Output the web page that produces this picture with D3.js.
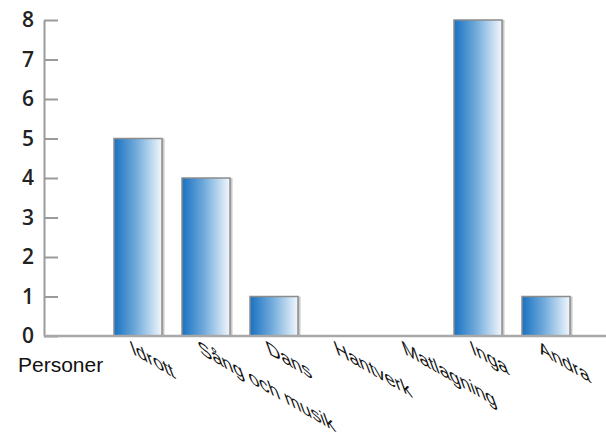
<!DOCTYPE html>
<html>
<head>
<meta charset="utf-8">
<script src="https://cdn.jsdelivr.net/npm/d3@7"></script>
<style>
  html, body { margin: 0; padding: 0; background: #fff; }
  svg { display: block; }
</style>
</head>
<body>
<svg id="chart" width="606" height="436"></svg>
<script>
const categories = ["Idrott", "Sång och musik", "Dans", "Hantverk", "Matlagning", "Inga", "Andra"];
const values = [5, 4, 1, 0, 0, 8, 1];
const yTicks = [0, 1, 2, 3, 4, 5, 6, 7, 8];
const axisTitle = "Personer";

const svg = d3.select("#chart");
const W = 606;
const axisX = 44;

const y = d3.scaleLinear().domain([0, 8]).range([336, 20]);
const x = d3.scaleBand().domain(categories).range([104, 580])
  .paddingInner(0.294).paddingOuter(0.147);

const defs = svg.append("defs");
const grad = defs.append("linearGradient").attr("id", "barGrad")
  .attr("x1", "0%").attr("x2", "100%").attr("y1", "0%").attr("y2", "0%");
grad.append("stop").attr("offset", "0%").attr("stop-color", "#1872c2");
grad.append("stop").attr("offset", "45%").attr("stop-color", "#6fa9da");
grad.append("stop").attr("offset", "100%").attr("stop-color", "#f2f8fd");

// bars
const bars = svg.append("g");
categories.forEach((c, i) => {
  if (values[i] <= 0) return;
  const bx = x(c), bw = x.bandwidth(), by = y(values[i]), bh = y(0) - y(values[i]);
  bars.append("rect")
    .attr("x", bx + bw).attr("y", by).attr("width", 2.5).attr("height", bh)
    .attr("fill", "#c8c8c8");
  bars.append("rect")
    .attr("x", bx).attr("y", by).attr("width", bw).attr("height", bh)
    .attr("fill", "url(#barGrad)")
    .attr("stroke", "#8c8c8c").attr("stroke-width", 1.5);
});

// y axis
const yAxis = svg.append("g").attr("transform", `translate(${axisX},0)`)
  .call(d3.axisLeft(y).tickValues(yTicks).tickFormat(d3.format("d"))
    .tickSizeInner(-14).tickSizeOuter(0).tickPadding(10));
yAxis.select(".domain").attr("stroke", "#9a9a9a").attr("stroke-width", 2);
yAxis.selectAll(".tick line").attr("stroke", "#9a9a9a").attr("stroke-width", 2);
yAxis.selectAll(".tick text")
  .attr("font-family", "'Open Sans', sans-serif")
  .attr("font-size", 21).attr("font-weight", 600).attr("fill", "#222");

// x baseline
svg.append("line")
  .attr("x1", axisX).attr("x2", W).attr("y1", y(0)).attr("y2", y(0))
  .attr("stroke", "#a8a8a8").attr("stroke-width", 2.5);

// x labels (sheared/rotated)
const xAxis = svg.append("g").attr("transform", `translate(0,${y(0)})`)
  .call(d3.axisBottom(x).tickSize(0).tickPadding(0));
xAxis.select(".domain").remove();
xAxis.selectAll(".tick text")
  .attr("font-family", "'Liberation Sans', Arial, sans-serif")
  .attr("font-size", 22).attr("fill", "#111")
  .attr("text-anchor", "start")
  .attr("y", 0).attr("dy", 0)
  .attr("transform", "translate(-5,18) matrix(0.866,0.5,0.34,0.94,0,0)");

// axis title
svg.append("text")
  .attr("x", 18).attr("y", 372)
  .attr("font-family", "'Liberation Sans', Arial, sans-serif")
  .attr("font-size", 21).attr("fill", "#111")
  .text(axisTitle);
</script>
</body>
</html>
